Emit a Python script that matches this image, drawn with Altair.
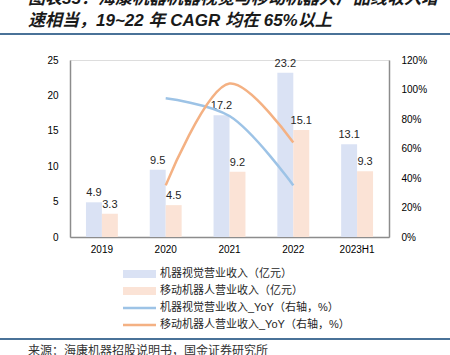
import altair as alt
import pandas as pd

# ---------------- data ----------------
categories = ["2019", "2020", "2021", "2022", "2023H1"]
vision_rev = [4.9, 9.5, 17.2, 23.2, 13.1]
mobile_rev = [3.3, 4.5, 9.2, 15.1, 9.3]
yoy_years = ["2020", "2021", "2022"]
vision_yoy = [0.94, 0.82, 0.35]
mobile_yoy = [0.35, 1.04, 0.64]
series_names = [
    "机器视觉营业收入（亿元）",
    "移动机器人营业收入（亿元）",
    "机器视觉营业收入_YoY（右轴，%）",
    "移动机器人营业收入_YoY（右轴，%）",
]
title_lines = [
    "图表35：海康机器机器视觉与移动机器人产品线收入增",
    "速相当，19~22 年 CAGR 均在 65%以上",
]
source_text = "来源：海康机器招股说明书，国金证券研究所"
left_ticks = [0, 5, 10, 15, 20, 25]
right_ticks = [0, 0.2, 0.4, 0.6, 0.8, 1.0, 1.2]

# ---------------- styles ----------------
BAR_BLUE = "#DAE2F4"
BAR_ORANGE = "#FBE3D6"
LINE_BLUE = "#9DC3E6"
LINE_ORANGE = "#F4B183"
RULE_COLOR = "#4A7298"
TEXT = "#262626"
FONT = "Liberation Sans, Noto Sans CJK SC"

bars_df = pd.DataFrame({
    "cat": categories * 2,
    "series": [series_names[0]] * len(categories) + [series_names[1]] * len(categories),
    "value": vision_rev + mobile_rev,
})
vy_df = pd.DataFrame({"cat": yoy_years, "yoy": vision_yoy})
my_df = pd.DataFrame({"cat": yoy_years, "yoy": mobile_yoy})

X = alt.X(
    "cat:N", sort=categories,
    scale=alt.Scale(domain=categories, paddingInner=0.5, paddingOuter=0.25),
    axis=alt.Axis(title=None, labelAngle=0, labelPadding=7, ticks=False,
                  domainColor="#8C8C8C", domainWidth=1.5),
)
XO = alt.XOffset("series:N", sort=series_names[:2],
                 scale=alt.Scale(domain=series_names[:2], paddingInner=0, paddingOuter=0))
YL = alt.Y("value:Q", scale=alt.Scale(domain=[0, 25]),
           axis=alt.Axis(title=None, values=left_ticks, ticks=False, labelPadding=12,
                         domainColor="#8C8C8C", domainWidth=1.5, grid=False))

bars = alt.Chart(bars_df).mark_bar().encode(
    x=X, xOffset=XO, y=YL,
    color=alt.Color("series:N", scale=alt.Scale(domain=series_names[:2],
                                                range=[BAR_BLUE, BAR_ORANGE]), legend=None),
)
labels = alt.Chart(bars_df).mark_text(dy=-9, fontSize=11, font=FONT, color=TEXT).encode(
    x=X, xOffset=XO, y=YL, text=alt.Text("value:Q", format=".1f"),
)
left = alt.layer(bars, labels)

YR = alt.Y("yoy:Q", scale=alt.Scale(domain=[0, 1.2]),
           axis=alt.Axis(title=None, orient="right", values=right_ticks, format=".0%",
                         ticks=False, labelPadding=12, domainColor="#8C8C8C",
                         domainWidth=1.5, grid=False))
line_v = alt.Chart(vy_df).mark_line(interpolate="catmull-rom", strokeWidth=2.5,
                                    color=LINE_BLUE).encode(x=X, y=YR)
line_m = alt.Chart(my_df).mark_line(interpolate="catmull-rom", strokeWidth=2.5,
                                    color=LINE_ORANGE).encode(x=X, y=YR)
right = alt.layer(line_v, line_m)


def txt(s, x, y, size=11, weight="normal", style="normal", color=TEXT):
    return alt.Chart(pd.DataFrame({"t": [s]})).mark_text(
        align="left", baseline="middle", fontSize=size, fontWeight=weight,
        fontStyle=style, font=FONT, color=color,
    ).encode(x=alt.value(x), y=alt.value(y), text="t:N")


def hrule(y):
    return alt.Chart(pd.DataFrame({"t": [0]})).mark_rule(
        color=RULE_COLOR, strokeWidth=2).encode(
        x=alt.value(-70), x2=alt.value(380), y=alt.value(y))


deco = [
    txt(title_lines[0], -42, -61, 17, "bold", "italic", "#1A1A1A"),
    txt(title_lines[1], -42, -39, 17, "bold", "italic", "#1A1A1A"),
    hrule(-26),
    hrule(279),
    txt(source_text, -42, 291, 12, color="#333333"),
]

legend_rows = [214, 231, 248, 265]
swatch_colors = [BAR_BLUE, BAR_ORANGE, LINE_BLUE, LINE_ORANGE]
for i, (name, yy) in enumerate(zip(series_names, legend_rows)):
    one = pd.DataFrame({"t": [name]})
    if i < 2:
        deco.append(alt.Chart(one).mark_rect(color=swatch_colors[i]).encode(
            x=alt.value(53), x2=alt.value(86), y=alt.value(yy - 4), y2=alt.value(yy + 4)))
    else:
        deco.append(alt.Chart(one).mark_rule(color=swatch_colors[i], strokeWidth=2.5).encode(
            x=alt.value(53), x2=alt.value(86), y=alt.value(yy)))
    deco.append(txt(name, 90, yy, 11))

chart = alt.layer(
    alt.layer(left, right).resolve_scale(y="independent"),
    *deco,
).properties(
    width=319, height=177,
    padding={"left": 70, "top": 60, "right": 61, "bottom": 118},
    autosize=alt.AutoSizeParams(type="none"),
).configure_view(stroke=None).configure_axis(
    labelFont=FONT, labelFontSize=11, labelColor=TEXT,
).configure(background="white")

chart.save("out.html", embed_options={"renderer": "svg", "actions": False})
